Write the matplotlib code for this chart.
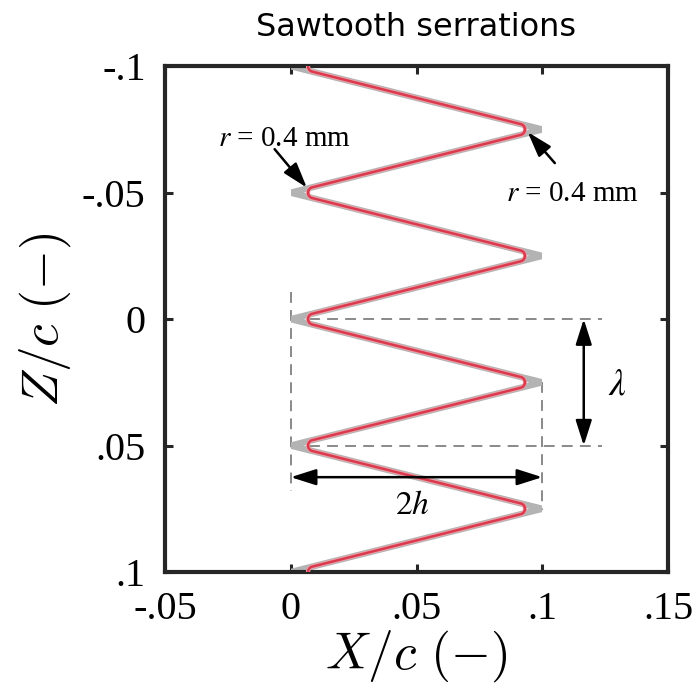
import numpy as np
import matplotlib
matplotlib.use("Agg")
import matplotlib.pyplot as plt
from matplotlib.patches import FancyArrowPatch, Rectangle

plt.rcParams['mathtext.fontset'] = 'stix'
plt.rcParams['font.family'] = ['DejaVu Sans']

# ---- data ----
tip_z = [-0.125, -0.1, -0.075, -0.05, -0.025, 0.0, 0.025, 0.05, 0.075, 0.1, 0.125]
tip_x = [0.1, 0.0, 0.1, 0.0, 0.1, 0.0, 0.1, 0.0, 0.1, 0.0, 0.1]
tip_radius = 0.0022          # rounded-tip radius in X/c units (r = 0.4 mm)
x_ticks = [-0.05, 0.0, 0.05, 0.1, 0.15]
x_ticklabels = ['-.05', '0', '.05', '.1', '.15']
y_ticks = [-0.1, -0.05, 0.0, 0.05, 0.1]
y_ticklabels = ['-.1', '-.05', '0', '.05', '.1']
wavelength = 0.05            # lambda
amplitude2 = 0.1             # 2h


def filleted(xs, zs, r, n=24):
    P = np.column_stack([xs, zs]).astype(float)
    out = [P[0]]
    for i in range(1, len(P) - 1):
        p = P[i]
        u1 = P[i - 1] - p; u1 /= np.linalg.norm(u1)
        u2 = P[i + 1] - p; u2 /= np.linalg.norm(u2)
        ang = np.arccos(np.clip(np.dot(u1, u2), -1, 1))
        th = ang / 2
        t = r / np.tan(th)
        bis = (u1 + u2); bis /= np.linalg.norm(bis)
        c = p + bis * r / np.sin(th)
        T1 = p + u1 * t
        T2 = p + u2 * t
        a1 = np.arctan2(*(T1 - c)[::-1])
        a2 = np.arctan2(*(T2 - c)[::-1])
        d = (a2 - a1 + np.pi) % (2 * np.pi) - np.pi
        aa = a1 + np.linspace(0, 1, n) * d
        out.extend(np.column_stack([c[0] + r * np.cos(aa), c[1] + r * np.sin(aa)]))
    out.append(P[-1])
    out = np.array(out)
    return out[:, 0], out[:, 1]


fig = plt.figure(figsize=(7, 6.9), dpi=100)
ax = fig.add_axes([0.2357, 0.171, 0.7186, 0.733])

clip = Rectangle((0.0, -0.1), 0.1, 0.2, transform=ax.transData, visible=False)
ax.add_patch(clip)

g, = ax.plot(tip_x, tip_z, color='#b3b3b3', lw=4.6, solid_joinstyle='miter', zorder=2)
g.set_clip_path(clip)
rx, rz = filleted(tip_x, tip_z, tip_radius)
ln, = ax.plot(rx, rz, color='#f2a0a8', lw=3.0, zorder=3)
ln.set_clip_path(clip)
ln2, = ax.plot(rx, rz, color='#d93a4e', lw=1.8, zorder=4)
ln2.set_clip_path(clip)

dash = dict(color='#808080', lw=1.3, ls=(0, (6, 4)), zorder=1)
ax.plot([0, 0], [-0.0107, 0.068], **dash)
ax.plot([amplitude2, amplitude2], [0.025, 0.0755], **dash)
ax.plot([0, 0.1237], [0, 0], **dash)
ax.plot([0, 0.1237], [wavelength, wavelength], **dash)

arr = dict(arrowstyle='<|-|>,head_length=1.1,head_width=0.35', color='black', lw=1.8,
           mutation_scale=14, shrinkA=0, shrinkB=0, zorder=5)
ax.add_patch(FancyArrowPatch((0.1165, 0.0), (0.1165, wavelength), **arr))
ax.add_patch(FancyArrowPatch((0.0, 0.0625), (amplitude2, 0.0625), **arr))
ax.text(0.130, 0.026, r'$\lambda$', fontsize=27, ha='center', va='center')
ax.text(0.0485, 0.0735, r'$2h$', fontsize=24, ha='center', va='center')

one = dict(arrowstyle='-|>,head_length=1.1,head_width=0.35', color='black', lw=1.8,
           mutation_scale=14, shrinkA=0, shrinkB=0, zorder=5)
ax.add_patch(FancyArrowPatch((-0.0064, -0.0672), (0.0064, -0.052), **one))
ax.add_patch(FancyArrowPatch((0.105, -0.0617), (0.0942, -0.074), **one))
ax.text(-0.0024, -0.0713, r'$r$ = 0.4 mm', fontsize=21, ha='center', va='center',
        family='Liberation Serif')
ax.text(0.112, -0.0495, r'$r$ = 0.4 mm', fontsize=21, ha='center', va='center',
        family='Liberation Serif')

ax.set_xlim(-0.05, 0.15)
ax.set_ylim(0.1, -0.1)
ax.set_xticks(x_ticks)
ax.set_xticklabels(x_ticklabels)
ax.set_yticks(y_ticks)
ax.set_yticklabels(y_ticklabels)
for lab in ax.get_xticklabels() + ax.get_yticklabels():
    lab.set_family('Liberation Serif')
    lab.set_fontsize(29)
ax.tick_params(direction='in', length=6, width=2.2, top=True, right=True,
               color='#262626')
ax.tick_params(axis='x', pad=14)
ax.tick_params(axis='y', pad=14)
for s in ax.spines.values():
    s.set_linewidth(3.0)
    s.set_color('#262626')

ax.set_xlabel(r'$X/c\ (-)$', fontsize=37, labelpad=0, math_fontfamily='cm')
ax.set_ylabel(r'$Z/c\ (-)$', fontsize=37, labelpad=6, math_fontfamily='cm')
ax.set_title('Sawtooth serrations', fontsize=23, pad=22)

fig.savefig('out.png', dpi=100)
